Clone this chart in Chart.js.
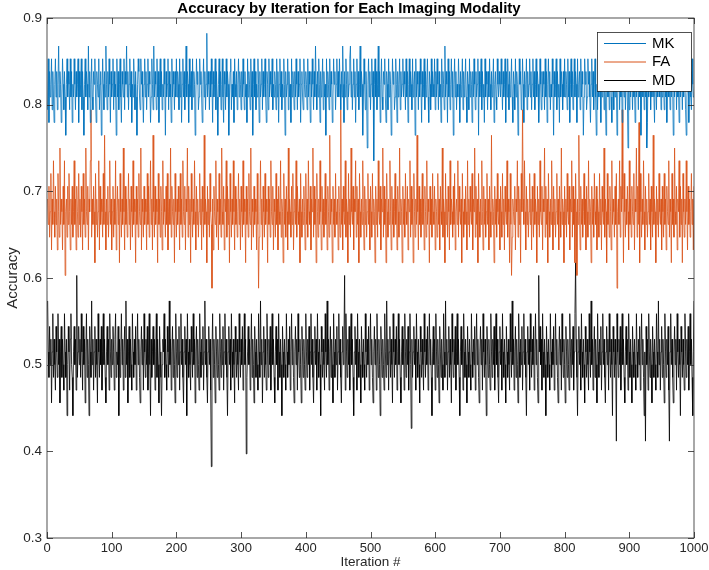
<!DOCTYPE html>
<html>
<head>
<meta charset="utf-8">
<script src="https://cdn.jsdelivr.net/npm/chart.js@4/dist/chart.umd.min.js"></script>
<style>
  html, body { margin: 0; padding: 0; background: #fff; }
  #wrap { width: 709px; height: 570px; }
</style>
</head>
<body>
<div id="wrap"><canvas id="chart" width="709" height="570"></canvas></div>
<script>
// correct answers out of 68 test cases, per iteration
const TEST_N = 68;

const mkHits = [
  54,58,53,57,55,56,58,54,57,55,53,56,58,55,57,54,56,59,55,57,56,53,55,58,56,54,57,55,52,56,58,55,57,56,54,58,55,57,53,56,55,58,56,54,57,55,56,58,53,57,
  55,56,58,54,57,55,52,56,58,55,57,56,54,59,55,57,53,56,58,55,54,57,56,58,55,53,57,56,55,58,54,56,57,52,55,58,56,54,57,55,59,56,54,57,55,58,56,53,57,55,
  56,58,54,57,55,56,52,58,55,57,54,56,58,55,53,57,56,55,58,54,57,56,59,55,57,54,56,58,55,57,53,56,55,58,56,54,57,55,52,56,58,57,55,54,58,56,57,55,53,56,
  58,55,57,54,56,58,55,57,56,53,55,58,56,54,59,55,57,56,54,58,55,57,53,56,58,55,57,54,56,55,58,56,52,57,55,56,58,54,57,55,56,53,58,55,57,56,54,57,55,58,
  55,57,56,54,58,55,57,53,56,58,55,57,54,56,59,55,57,56,53,58,55,56,57,54,58,55,57,56,52,55,58,56,57,54,55,58,56,57,55,53,56,58,55,57,54,56,60,55,57,56,
  54,57,55,58,56,53,57,55,56,58,54,57,55,52,56,58,55,57,54,56,58,55,53,57,56,54,58,55,57,56,52,55,57,58,54,56,55,57,53,58,56,55,57,54,56,58,55,57,56,54,
  57,55,58,56,54,57,55,56,53,58,55,57,56,54,58,55,57,52,56,58,55,57,54,56,55,58,56,53,57,55,56,58,54,57,55,56,58,55,53,57,56,54,58,55,57,56,55,58,54,56,
  55,57,56,54,58,55,57,53,56,58,55,57,54,56,55,58,56,52,57,55,56,58,54,57,55,56,53,58,55,57,56,54,57,55,58,56,54,57,55,56,58,53,56,57,55,54,58,56,55,57,
  56,54,58,55,57,56,53,57,55,58,56,54,57,55,59,56,54,57,55,58,56,53,57,55,56,58,54,57,55,56,52,58,55,57,56,54,58,55,57,56,53,55,58,56,57,54,56,58,55,57,
  55,58,56,54,57,55,59,56,53,57,55,58,56,54,57,55,56,58,59,55,57,54,56,58,55,57,53,56,58,55,57,54,56,59,55,57,56,52,55,58,56,54,57,55,51,56,58,55,57,54,
  56,58,55,57,50,56,58,55,57,54,56,59,55,57,53,56,58,55,54,57,56,58,55,53,57,56,54,58,55,57,56,52,55,58,56,57,54,55,58,56,53,57,55,56,58,54,57,55,56,58,
  55,57,56,54,58,55,57,53,56,58,55,57,56,54,58,55,56,57,52,58,55,57,56,54,57,55,58,56,53,57,55,56,58,54,57,55,56,58,55,53,57,56,54,58,55,57,56,55,58,54,
  57,55,58,56,54,57,55,56,53,58,55,57,56,54,59,55,57,56,53,58,55,57,54,56,58,55,57,52,56,58,55,57,54,56,55,58,56,53,57,55,56,58,54,57,55,56,58,55,53,57,
  56,54,58,55,57,56,53,57,55,58,56,54,57,55,56,58,52,57,55,56,58,54,57,55,56,53,58,55,57,56,54,57,55,58,56,54,57,55,56,58,53,56,57,55,54,58,56,55,57,56,
  55,58,56,54,57,55,56,58,53,57,55,58,56,54,57,55,56,58,55,53,57,56,54,58,55,57,56,52,55,58,56,57,54,55,58,56,53,57,55,56,58,54,57,55,56,58,55,57,54,56,
  58,55,57,54,56,58,55,57,56,53,55,58,56,54,57,55,57,56,54,58,55,57,53,56,58,55,57,54,56,55,58,56,52,57,55,56,58,54,57,55,56,53,58,55,57,56,54,57,55,58,
  55,57,56,54,58,55,57,53,56,58,55,57,54,56,58,55,57,56,53,58,55,56,57,54,58,55,57,56,52,55,58,56,57,54,55,58,56,57,55,53,56,58,55,57,54,56,58,55,52,56,
  54,57,55,58,56,53,57,55,56,58,54,57,55,52,56,58,55,57,54,56,58,55,53,57,56,54,58,55,57,56,52,55,57,58,54,56,55,57,53,58,56,55,57,54,56,58,55,51,56,54,
  57,55,58,56,54,57,55,56,53,58,55,57,56,54,58,55,57,52,56,58,55,57,54,56,55,58,51,53,57,55,56,58,54,57,55,56,58,55,53,57,56,54,58,55,57,56,55,58,54,56,
  55,57,56,54,58,55,57,53,56,58,55,57,54,56,55,58,56,52,57,55,56,58,54,57,55,56,53,58,55,57,56,54,57,55,58,56,54,52,55,56,58,53,56,57,55,54,58,56,55,55
];

const faHits = [
  47,45,48,44,46,49,43,47,45,50,46,44,48,45,47,43,49,46,44,51,45,47,46,43,48,45,50,41,46,47,44,48,45,49,46,43,47,45,48,44,46,50,45,47,43,48,46,44,49,45,
  47,44,48,46,43,49,45,47,44,51,46,45,48,43,47,46,50,54,44,47,45,48,46,42,49,45,47,44,46,50,43,48,45,47,46,44,49,45,52,46,43,47,45,48,44,46,50,45,47,43,
  46,48,44,47,45,50,43,46,48,45,47,42,49,46,44,47,45,51,46,43,48,45,47,44,46,49,45,47,43,48,46,44,50,45,47,46,42,48,45,47,44,49,46,45,51,43,47,46,44,48,
  45,47,46,43,49,45,48,44,46,50,45,47,43,52,46,44,48,45,47,46,42,49,45,47,44,48,46,43,50,45,47,46,44,48,45,49,43,46,47,45,51,44,48,46,45,47,42,49,46,44,
  47,45,48,46,43,49,45,47,44,50,46,45,48,43,47,46,51,44,48,45,47,42,49,46,44,47,45,50,46,43,48,45,47,44,46,49,45,47,43,48,46,44,52,45,47,46,42,48,45,47,
  44,49,46,45,40,47,43,48,46,45,50,44,47,46,43,49,45,47,44,51,46,45,48,43,47,46,50,44,48,45,47,42,49,46,44,47,45,50,46,43,48,45,47,44,46,49,45,47,43,48,
  46,44,50,45,47,46,42,48,45,47,44,49,46,45,51,43,47,46,44,48,45,47,46,43,49,45,40,44,46,50,45,47,43,48,46,44,49,45,47,46,42,48,45,47,44,50,46,45,48,43,
  47,46,44,49,45,47,43,48,46,45,50,44,47,46,42,49,45,47,44,48,46,43,51,45,47,46,44,48,45,49,43,46,47,45,50,44,48,46,45,47,42,49,46,44,47,45,48,46,43,49,
  45,47,44,50,46,45,48,43,47,46,51,44,48,45,47,42,49,46,44,47,45,50,46,43,48,45,47,44,46,49,45,47,43,48,46,44,52,45,47,46,42,48,45,47,44,49,46,45,47,43,
  48,46,44,54,45,47,43,48,46,45,50,44,47,46,42,49,45,47,44,51,46,45,48,43,47,46,50,44,48,45,47,42,49,46,44,47,45,50,46,43,48,45,47,44,46,49,45,47,43,48,
  46,44,49,45,47,46,42,48,45,47,44,50,46,45,48,43,47,46,51,44,48,45,47,42,49,46,44,47,45,50,46,43,48,45,47,44,46,49,45,47,43,48,46,44,51,45,47,46,42,48,
  45,47,44,49,46,45,48,43,47,46,50,44,48,45,47,42,49,46,44,47,45,52,46,43,48,45,47,44,46,49,45,47,43,48,46,44,50,45,47,46,42,48,45,47,44,49,46,45,48,43,
  47,46,44,49,45,47,43,48,46,45,51,44,47,46,42,49,45,47,44,48,46,43,50,45,47,46,44,48,45,49,43,46,47,45,50,44,48,46,45,47,42,49,46,44,47,45,48,46,43,50,
  45,47,44,48,46,45,49,43,47,46,51,44,48,45,47,42,49,46,44,47,45,50,46,43,48,45,47,44,46,49,45,47,43,48,46,44,52,45,47,46,42,48,45,47,44,49,46,45,47,43,
  48,46,44,49,45,47,43,48,46,45,50,44,47,46,42,49,45,41,44,47,46,45,48,43,47,46,50,44,48,45,47,42,49,46,54,47,45,50,46,43,48,45,47,44,46,49,45,47,43,48,
  46,44,49,45,47,46,42,48,45,47,44,50,46,45,48,43,47,46,51,44,48,45,47,42,49,46,44,47,45,50,46,43,48,45,47,44,46,49,45,47,43,48,46,44,51,45,47,46,42,48,
  45,47,44,49,46,45,48,43,47,46,50,44,48,45,47,42,49,46,41,47,45,52,46,43,48,45,47,44,46,49,45,47,43,48,46,44,50,45,47,46,42,48,45,47,44,49,46,45,48,43,
  47,46,44,49,45,47,43,48,46,45,51,44,47,46,42,49,45,47,44,48,46,43,50,45,47,46,44,48,45,49,40,46,47,45,50,44,48,46,54,47,42,49,46,44,47,45,48,46,43,50,
  45,47,44,48,46,45,49,43,47,46,51,44,48,45,53,42,49,46,44,47,45,50,46,43,48,45,47,44,46,49,45,47,43,48,46,44,52,45,47,46,42,48,45,47,44,49,46,45,47,43,
  48,46,44,49,45,47,43,48,46,45,50,44,47,46,42,49,45,47,44,51,46,45,48,43,47,46,50,44,48,45,47,42,49,46,44,47,45,50,46,43,48,45,47,44,46,49,45,47,43,48
];

const mdHits = [
  39,35,33,37,34,36,31,35,38,33,36,34,32,37,35,33,38,34,36,31,35,37,33,36,34,32,38,35,33,36,30,34,37,35,32,36,38,34,33,30,35,37,34,36,32,41,33,35,37,34,
  36,33,38,35,32,37,34,36,31,35,38,33,36,34,30,37,35,33,39,34,36,32,35,37,33,36,34,31,38,35,33,36,34,37,32,35,38,34,36,33,31,35,37,34,36,32,38,35,33,36,
  34,37,35,32,36,38,33,35,34,37,30,36,33,35,38,34,36,32,35,37,33,39,34,36,31,35,37,33,36,34,32,38,35,33,36,34,37,32,35,38,34,36,33,31,35,37,34,36,32,38,
  35,33,36,34,37,32,35,38,34,30,36,33,35,37,34,36,32,35,38,33,36,34,31,37,35,33,30,34,36,35,38,33,36,34,32,37,35,33,39,34,36,32,35,37,33,36,34,31,38,35,
  33,36,34,37,32,35,38,34,36,33,31,35,37,34,36,30,38,35,33,36,34,32,37,35,33,38,34,36,31,35,37,33,36,34,32,38,35,33,36,34,37,32,35,39,34,36,33,31,35,37,
  34,36,32,26,35,38,33,36,34,31,37,35,33,36,34,32,38,35,33,36,34,37,32,35,38,34,36,33,30,35,37,34,36,32,38,35,33,36,34,31,37,35,33,36,34,32,38,35,33,36,
  34,37,32,35,38,34,36,27,33,35,37,34,36,32,35,38,33,36,34,31,37,35,33,36,34,32,38,35,33,39,34,36,31,35,37,33,36,34,32,38,35,33,36,34,37,32,35,38,34,36,
  33,31,35,37,34,36,32,38,35,33,36,34,30,37,35,33,36,34,32,38,35,33,36,34,37,32,35,38,34,36,33,31,35,37,34,36,32,38,35,33,36,34,31,37,35,33,36,34,32,38,
  35,33,36,34,37,32,35,38,34,36,33,31,35,37,34,36,32,38,35,33,36,34,30,37,35,33,36,34,32,38,35,33,39,34,36,32,35,37,33,36,34,31,38,35,33,36,34,37,32,35,
  38,34,36,33,31,35,37,34,36,41,32,38,35,33,36,34,37,32,35,38,34,36,33,30,35,37,34,36,32,38,35,33,36,34,31,37,35,33,36,34,32,38,35,33,36,34,37,32,35,38,
  34,36,33,31,35,37,34,36,32,38,35,33,36,34,30,37,35,33,36,34,32,38,35,33,39,34,36,32,35,37,33,36,34,31,38,35,33,36,34,37,32,35,38,34,36,33,31,35,37,34,
  36,32,38,35,33,36,34,37,32,35,38,34,29,36,33,35,37,34,36,32,38,35,33,36,34,31,37,35,33,36,34,32,38,35,33,36,34,37,32,35,38,34,36,33,30,35,37,34,36,32,
  38,35,33,36,34,31,37,35,33,36,34,32,38,35,33,39,34,36,32,35,37,33,36,34,31,38,35,33,36,34,37,32,35,38,34,36,33,30,35,37,34,36,32,38,35,33,36,34,31,37,
  35,33,36,34,32,38,35,33,36,34,37,32,35,38,34,36,33,31,35,37,34,36,32,38,35,33,36,34,30,37,35,33,36,34,32,38,35,33,36,34,37,32,35,38,34,36,33,31,35,37,
  34,36,32,38,35,33,36,34,31,37,35,33,36,34,32,38,35,33,39,34,36,32,35,37,33,36,34,31,38,35,33,36,34,37,32,35,38,34,36,33,30,35,37,34,36,32,38,35,33,36,
  34,37,32,35,38,34,36,33,31,41,35,37,34,36,32,38,35,33,36,34,30,37,35,33,36,34,32,38,35,33,36,34,37,32,35,38,34,36,33,31,35,37,34,36,32,38,35,33,36,34,
  31,37,35,33,36,34,32,38,35,33,36,34,37,32,35,38,42,36,33,30,35,37,34,36,32,38,35,33,36,34,31,37,35,33,36,34,32,38,35,33,39,34,36,32,35,37,33,36,34,31,
  38,35,33,36,34,37,32,35,38,34,36,33,31,35,37,34,36,32,38,35,33,36,34,30,37,35,33,36,34,28,38,35,33,36,34,37,32,35,38,34,36,33,31,35,37,34,36,32,38,35,
  33,36,34,31,37,35,33,36,34,32,38,35,33,36,34,37,32,35,38,34,36,33,30,35,28,37,34,36,32,38,35,33,36,34,31,37,35,33,36,34,32,38,35,33,39,34,36,32,35,37,
  33,36,34,31,38,35,33,36,34,37,32,28,35,38,34,36,33,31,35,37,34,36,32,38,35,33,36,34,30,37,35,33,36,34,32,38,35,33,36,34,37,32,35,38,34,36,33,30,35,39
];

const seriesNames = ["MK", "FA", "MD"];
const seriesColors = ["#0072BD", "#D95319", "#000000"];
const iterTicks = [0, 100, 200, 300, 400, 500, 600, 700, 800, 900, 1000];
const accTicks = [0.3, 0.4, 0.5, 0.6, 0.7, 0.8, 0.9];

const FONT = "'Liberation Sans', Arial, Helvetica, sans-serif";
const AXIS_COLOR = "#262626";

function toPoints(hits) {
  return hits.map((h, i) => ({ x: i + 1, y: h / TEST_N }));
}

// MATLAB style box with inward ticks on all four sides
const boxPlugin = {
  id: "box",
  afterDatasetsDraw(chart) {
    const { ctx, chartArea: a, scales } = chart;
    ctx.save();
    ctx.strokeStyle = AXIS_COLOR;
    ctx.lineWidth = 0.8;
    ctx.strokeRect(a.left, a.top, a.right - a.left, a.bottom - a.top);
    ctx.beginPath();
    iterTicks.forEach((v) => {
      const px = Math.round(scales.x.getPixelForValue(v)) + 0.5;
      ctx.moveTo(px, a.bottom);
      ctx.lineTo(px, a.bottom - 6);
      ctx.moveTo(px, a.top);
      ctx.lineTo(px, a.top + 6);
    });
    accTicks.forEach((v) => {
      const py = Math.round(scales.y.getPixelForValue(v)) + 0.5;
      ctx.moveTo(a.left, py);
      ctx.lineTo(a.left + 6, py);
      ctx.moveTo(a.right, py);
      ctx.lineTo(a.right - 6, py);
    });
    ctx.stroke();
    ctx.restore();
  },
};

// legend box in the upper right corner
const legendBoxPlugin = {
  id: "legendBox",
  afterDraw(chart) {
    const { ctx } = chart;
    const x0 = 597, y0 = 32, w = 94, h = 59;
    ctx.save();
    ctx.fillStyle = "#fff";
    ctx.fillRect(x0, y0, w, h);
    ctx.strokeStyle = AXIS_COLOR;
    ctx.lineWidth = 0.8;
    ctx.strokeRect(x0 + 0.5, y0 + 0.5, w, h);
    chart.data.datasets.forEach((ds, i) => {
      const y = y0 + 11.5 + i * 18.5;
      ctx.strokeStyle = ds.borderColor;
      ctx.lineWidth = 1;
      ctx.beginPath();
      ctx.moveTo(604, y);
      ctx.lineTo(646, y);
      ctx.stroke();
      ctx.fillStyle = "#000";
      ctx.font = "15px " + FONT;
      ctx.textAlign = "left";
      ctx.textBaseline = "middle";
      ctx.fillText(ds.label, 652, y);
    });
    ctx.restore();
  },
};

new Chart(document.getElementById("chart").getContext("2d"), {
  type: "line",
  data: {
    datasets: [
      { label: seriesNames[0], data: toPoints(mkHits), borderColor: seriesColors[0] },
      { label: seriesNames[1], data: toPoints(faHits), borderColor: seriesColors[1] },
      { label: seriesNames[2], data: toPoints(mdHits), borderColor: seriesColors[2] },
    ],
  },
  options: {
    responsive: false,
    animation: false,
    layout: { padding: { left: 4, right: 15, top: 0, bottom: 0 } },
    elements: {
      point: { radius: 0 },
      line: { borderWidth: 0.8, tension: 0 },
    },
    plugins: {
      legend: { display: false },
      tooltip: { enabled: false },
      title: {
        display: true,
        text: "Accuracy by Iteration for Each Imaging Modality",
        color: "#000",
        font: { family: FONT, size: 15, weight: "bold", lineHeight: 1.2 },
        padding: { top: 0, bottom: 0 },
      },
    },
    scales: {
      x: {
        type: "linear",
        min: 0,
        max: 1000,
        afterBuildTicks: (s) => { s.ticks = iterTicks.map((v) => ({ value: v })); },
        afterFit: (s) => { s.height = 32; s.paddingLeft = 0; s.paddingRight = 0; },
        grid: { display: false, drawTicks: false },
        border: { display: false },
        ticks: {
          color: AXIS_COLOR,
          font: { family: FONT, size: 13 },
          padding: 3,
          maxRotation: 0,
          autoSkip: false,
          callback: (v) => String(v),
        },
        title: {
          display: true,
          text: "Iteration #",
          color: AXIS_COLOR,
          font: { family: FONT, size: 13.5 },
          padding: { top: 0, bottom: 0 },
        },
      },
      y: {
        min: 0.3,
        max: 0.9,
        afterBuildTicks: (s) => { s.ticks = accTicks.map((v) => ({ value: v })); },
        afterFit: (s) => { s.width = 43; },
        grid: { display: false, drawTicks: false },
        border: { display: false },
        ticks: {
          color: AXIS_COLOR,
          font: { family: FONT, size: 13.5 },
          padding: 5,
          callback: (v) => Number(v).toFixed(1),
        },
        title: {
          display: true,
          text: "Accuracy",
          color: AXIS_COLOR,
          font: { family: FONT, size: 15 },
          padding: { top: 0, bottom: 0 },
        },
      },
    },
  },
  plugins: [boxPlugin, legendBoxPlugin],
});
</script>
</body>
</html>
